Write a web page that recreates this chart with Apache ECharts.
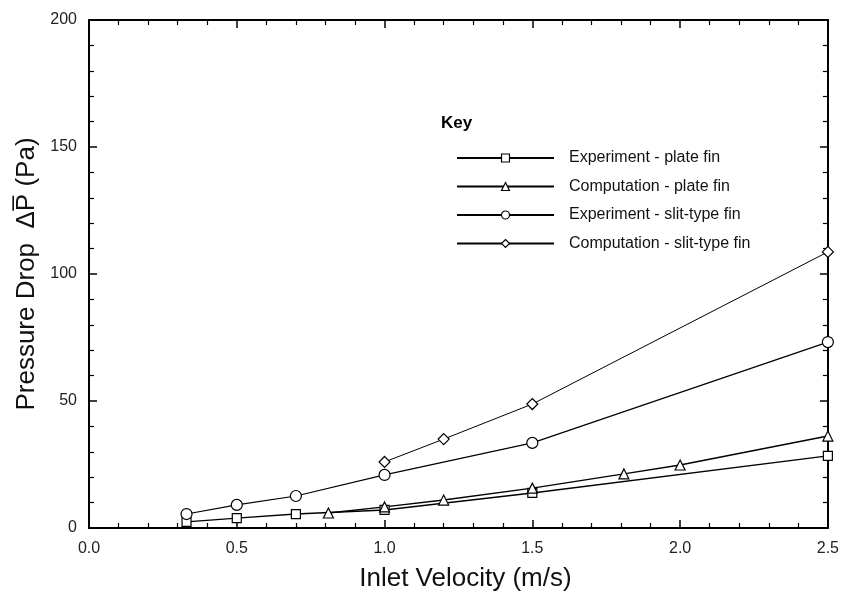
<!DOCTYPE html>
<html>
<head>
<meta charset="utf-8">
<script src="https://cdn.jsdelivr.net/npm/echarts@6/dist/echarts.min.js"></script>
<style>
html,body{margin:0;padding:0;background:#fff;}
#chart{width:842px;height:598px;}
</style>
</head>
<body>
<div id="chart"></div>
<script>
// Data
var expPlateX = [0.33, 0.5, 0.7, 1.0, 1.5, 2.5];
var expPlateY = [2.4, 3.9, 5.5, 7.1, 13.8, 28.4];
var compPlateX = [0.81, 1.0, 1.2, 1.5, 1.81, 2.0, 2.5];
var compPlateY = [5.9, 8.3, 11.0, 15.7, 21.3, 24.8, 36.2];
var expSlitX = [0.33, 0.5, 0.7, 1.0, 1.5, 2.5];
var expSlitY = [5.5, 9.1, 12.6, 20.9, 33.5, 73.2];
var compSlitX = [1.0, 1.2, 1.5, 2.5];
var compSlitY = [26.0, 35.0, 48.8, 108.7];
var seriesNames = ['Experiment - plate fin', 'Computation - plate fin', 'Experiment - slit-type fin', 'Computation - slit-type fin'];
var xTicks = ['0.0', '0.5', '1.0', '1.5', '2.0', '2.5'];

function pairs(xs, ys) { return xs.map(function (x, i) { return [x, ys[i]]; }); }

var font = 'Liberation Sans, Arial, Helvetica, sans-serif';
var chart = echarts.init(document.getElementById('chart'), null, {renderer: 'canvas'});

function mkSeries(name, data, symbol, size, lw) {
  return {
    name: name, type: 'line', data: data, xAxisIndex: 0, yAxisIndex: 0,
    symbol: symbol, symbolSize: size, showAllSymbol: true,
    lineStyle: {color: '#000', width: lw},
    itemStyle: {color: '#fff', borderColor: '#000', borderWidth: 1.2},
    animation: false, z: 3
  };
}

function axisCommon() {
  return {
    axisLine: {show: true, onZero: false, lineStyle: {color: '#000', width: 2}},
    axisTick: {show: true, inside: true, length: 8, lineStyle: {color: '#000', width: 1.5}},
    minorTick: {show: true, splitNumber: 5, length: 5, lineStyle: {color: '#000', width: 1.2}},
    splitLine: {show: false}
  };
}

var option = {
  backgroundColor: '#fff',
  animation: false,
  grid: {left: 89, right: 12, top: 20, bottom: 70, containLabel: false},
  title: {
    text: 'Key', left: 436, top: 110,
    textStyle: {fontFamily: font, fontSize: 17, fontWeight: 'bold', color: '#000'}
  },
  legend: {
    orient: 'vertical', left: 451, top: 145,
    itemWidth: 97, itemHeight: 10, itemGap: 12.5,
    data: seriesNames,
    textStyle: {fontFamily: font, fontSize: 16, color: '#111', padding: [0, 0, 0, 10]},
    itemStyle: {color: '#fff', borderColor: '#000', borderWidth: 1.2},
    lineStyle: {color: '#000'}
  },
  xAxis: [
    Object.assign(axisCommon(), {
      type: 'value', min: 0, max: 2.5, interval: 0.5, position: 'bottom',
      name: 'Inlet Velocity (m/s)', nameLocation: 'middle', nameGap: 38,
      nameTextStyle: {fontFamily: font, fontSize: 26, color: '#111', padding: [0, 0, 0, 14]},
      axisLabel: {
        margin: 13, fontFamily: font, fontSize: 16, color: '#222',
        formatter: function (v) { return xTicks[Math.round(v / 0.5)]; }
      }
    }),
    Object.assign(axisCommon(), {
      type: 'value', min: 0, max: 2.5, interval: 0.5, position: 'top',
      axisLabel: {show: false}
    })
  ],
  yAxis: [
    Object.assign(axisCommon(), {
      type: 'value', min: 0, max: 200, interval: 50, position: 'left',
      name: 'Pressure Drop  \u0394P\u0305 (Pa)', nameLocation: 'middle', nameGap: 39,
      nameTextStyle: {fontFamily: font, fontSize: 26, color: '#111'},
      axisLabel: {margin: 12, fontFamily: font, fontSize: 16, color: '#222'}
    }),
    Object.assign(axisCommon(), {
      type: 'value', min: 0, max: 200, interval: 50, position: 'right',
      axisLabel: {show: false}
    })
  ],
  series: [
    mkSeries(seriesNames[0], pairs(expPlateX, expPlateY), 'rect', 9, 1.4),
    mkSeries(seriesNames[1], pairs(compPlateX, compPlateY), 'triangle', 10, 1.4),
    mkSeries(seriesNames[2], pairs(expSlitX, expSlitY), 'circle', 11, 1.2),
    mkSeries(seriesNames[3], pairs(compSlitX, compSlitY), 'diamond', 11, 1.0)
  ]
};
chart.setOption(option);
</script>
</body>
</html>
